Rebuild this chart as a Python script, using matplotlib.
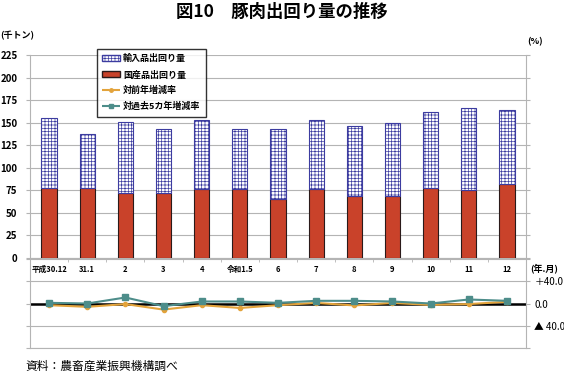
import matplotlib
matplotlib.use("Agg")
import matplotlib.pyplot as plt
from matplotlib.patches import Patch
from matplotlib.lines import Line2D

plt.rcParams['font.family'] = ['Noto Sans CJK JP', 'DejaVu Sans']
plt.rcParams['hatch.linewidth'] = 0.5

# data
months = ["平成30.12", "31.1", "2", "3", "4", "令和1.5", "6", "7", "8", "9", "10", "11", "12"]
domestic = [78, 78, 72, 72, 76, 76, 65, 76, 69, 69, 78, 75, 82]
imports = [77, 59, 79, 71, 77, 67, 78, 77, 77, 81, 84, 91, 82]
yoy = [-3, -6, -1, -11, -3, -8, -3, 1, -3.5, 1, -2.5, -1, 3]
vs_5yr = [1.2, 0, 10.8, -4.8, 3.6, 3.6, 1.2, 4.8, 4.8, 3.6, 0, 7.2, 4.8]

grid_c = '#B4B4B4'
red = '#C9422A'
hatch_c = '#3C3CA0'
orange = '#E3A33B'
teal = '#4D8D8A'

fig = plt.figure(figsize=(5.64, 3.74), dpi=100)
W, H = 564, 374
ax1 = fig.add_axes([30 / W, (H - 258) / H, 496 / W, 203 / H])
ax2 = fig.add_axes([30 / W, (H - 348) / H, 496 / W, 89 / H])

x = list(range(len(months)))

# upper panel: stacked bars
ax1.bar(x, domestic, width=0.4, color=red, edgecolor='#2A1A1A', linewidth=0.8, zorder=3)
ax1.bar(x, imports, width=0.4, bottom=domestic, color='white', edgecolor=hatch_c,
        hatch='+++++', linewidth=0.8, zorder=3)
ax1.set_xlim(-0.5, len(months) - 0.5)
ax1.set_ylim(0, 225)
ax1.set_yticks(range(0, 226, 25))
ax1.yaxis.grid(True, color=grid_c, linewidth=0.8)
ax1.set_axisbelow(True)
ax1.set_xticks(x)
ax1.set_xticklabels(months, fontsize=5.5, fontweight='bold')
ax1.set_xticks([i + 0.5 for i in x[:-1]], minor=True)
ax1.tick_params(axis='x', which='major', length=0, pad=5)
ax1.tick_params(axis='x', which='minor', length=3, color=grid_c)
ax1.tick_params(axis='y', left=True, right=True, length=3, color=grid_c,
                labelsize=7, pad=6)
for lab in ax1.get_yticklabels():
    lab.set_fontweight('bold')
ax1.spines['top'].set_visible(False)
for s in ['left', 'right', 'bottom']:
    ax1.spines[s].set_color(grid_c)

# lower panel: rates
ax2.plot(x, yoy, color=orange, marker='o', markersize=3, linewidth=1.5, zorder=3)
ax2.plot(x, vs_5yr, color=teal, marker='s', markersize=4, linewidth=1.5, zorder=4)
ax2.axhline(0, color='black', linewidth=1.8, zorder=2)
ax2.set_xlim(-0.5, len(months) - 0.5)
ax2.set_ylim(-80, 80)
ax2.set_yticks([-80, -40, 0, 40, 80])
ax2.set_yticklabels(["", "▲ 40.0", "0.0", "＋40.0", ""], fontsize=7)
ax2.yaxis.grid(True, color=grid_c, linewidth=0.8)
ax2.set_xticks([])
ax2.tick_params(axis='y', left=True, right=True, labelleft=False, labelright=True,
                length=3, color=grid_c, pad=3)
ax2.spines['top'].set_visible(False)
for s in ['left', 'right', 'bottom']:
    ax2.spines[s].set_color(grid_c)
ax2.patch.set_alpha(0)

# legend
handles = [
    Patch(facecolor='white', edgecolor=hatch_c, hatch='+++++', label='輸入品出回り量'),
    Patch(facecolor=red, edgecolor='#2A1A1A', label='国産品出回り量'),
    Line2D([], [], color=orange, marker='o', markersize=2.5, linestyle='--', label='対前年増減率'),
    Line2D([], [], color=teal, marker='s', markersize=3, linestyle='--', label='対過去5カ年増減率'),
]
leg = fig.legend(handles=handles, loc='upper left', bbox_to_anchor=(97 / W, 1 - 49 / H),
                 frameon=True, fancybox=False, borderaxespad=0,
                 handlelength=2.0, handletextpad=0.3, labelspacing=0.75,
                 borderpad=0.6, prop={'weight': 'bold', 'size': 6.5})
leg.get_frame().set_edgecolor('black')
leg.get_frame().set_linewidth(1.0)

# texts
fig.text(282 / W, 1 - 12 / H, "図10　豚肉出回り量の推移", ha='center', va='center',
         fontsize=12.5, fontweight='bold')
fig.text(0 / W, 1 - 36 / H, "(千トン)", ha='left', va='center', fontsize=6.5, fontweight='bold')
fig.text(527 / W, 1 - 42 / H, "(%)", ha='left', va='center', fontsize=6.5, fontweight='bold')
fig.text(530 / W, 1 - 268 / H, "(年.月)", ha='left', va='center', fontsize=6.5, fontweight='bold')
fig.text(25 / W, 1 - 366 / H, "資料：農畜産業振興機構調べ", ha='left', va='center',
         fontsize=8.5)

fig.savefig("out.png", dpi=100)
